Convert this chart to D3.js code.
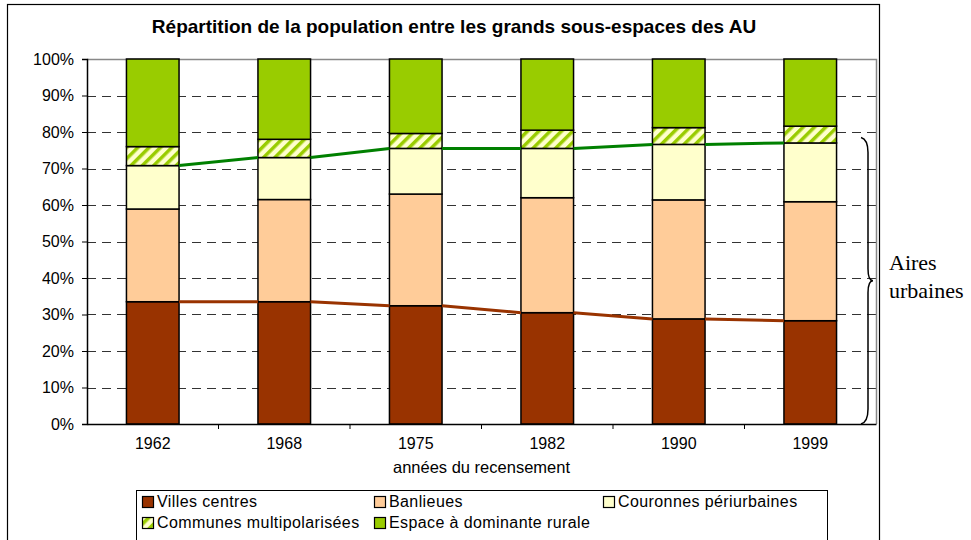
<!DOCTYPE html>
<html>
<head>
<meta charset="utf-8">
<script src="https://cdn.jsdelivr.net/npm/d3@7"></script>
<style>
  body { margin: 0; background: #fff; }
</style>
</head>
<body>
<div id="canvas"></div>
<script>
"use strict"

// chart values (percent of population)
let years = ["1962", "1968", "1975", "1982", "1990", "1999"];
let villesCentres = [33.5, 33.5, 32.4, 30.5, 28.8, 28.3];
let banlieues = [25.4, 28.0, 30.6, 31.5, 32.6, 32.6];
let couronnes = [11.9, 11.5, 12.5, 13.5, 15.2, 16.1];
let multipolarisees = [5.2, 5.0, 4.1, 5.0, 4.6, 4.6];
let espaceRural = [24.0, 22.0, 20.4, 19.5, 18.8, 18.4];
let yTicks = [0, 10, 20, 30, 40, 50, 60, 70, 80, 90, 100];

let seriesNames = ["Villes centres", "Banlieues", "Couronnes périurbaines",
    "Communes multipolarisées", "Espace à dominante rurale"];
let seriesKeys = ["villes", "banlieues", "couronnes", "multi", "rural"];
let seriesFill = ["#993300", "#ffcc99", "#ffffcc", "url(#hatch)", "#99cc00"];

let table = years.map((y, i) => ({
    year: y,
    villes: villesCentres[i],
    banlieues: banlieues[i],
    couronnes: couronnes[i],
    multi: multipolarisees[i],
    rural: espaceRural[i]
}));

let sans = "Liberation Sans, Arial, sans-serif";
let serif = "Liberation Serif, Times New Roman, serif";
let plotLeft = 87, plotRight = 876, plotTop = 59, plotBottom = 424;

let drawing = d3.select("#canvas")
    .append("svg")
    .attr("width", 971)
    .attr("height", 540)
    .attr("font-family", sans);

/* hatch for communes multipolarisées */
let hatch = drawing.append("defs").append("pattern")
    .attr("id", "hatch")
    .attr("patternUnits", "userSpaceOnUse")
    .attr("width", 8)
    .attr("height", 8)
    .attr("patternTransform", "rotate(45)");
hatch.append("rect")
    .attr("width", 8).attr("height", 8)
    .attr("fill", "#ffffcc");
hatch.append("rect")
    .attr("width", 3.5).attr("height", 8)
    .attr("fill", "#99cc00");

/* outer frame */
drawing.append("rect")
    .attr("x", 7.5)
    .attr("y", 4.5)
    .attr("width", 872)
    .attr("height", 560)
    .attr("fill", "none")
    .attr("stroke", "#000")
    .attr("stroke-width", 1.2);

/* title */
drawing.append("text")
    .attr("x", 454)
    .attr("y", 33)
    .attr("text-anchor", "middle")
    .attr("font-size", 19)
    .attr("font-weight", "bold")
    .text("Répartition de la population entre les grands sous-espaces des AU");

let x = d3.scaleBand()
    .domain(years)
    .range([plotLeft, plotRight])
    .paddingInner(0.6)
    .paddingOuter(0.3);

let y = d3.scaleLinear()
    .domain([0, 100])
    .range([plotBottom, plotTop]);

/* dashed grid lines */
drawing.append("g")
    .selectAll("line")
    .data(yTicks.filter(t => t > 0 && t < 100))
    .join("line")
    .attr("x1", plotLeft)
    .attr("x2", plotRight)
    .attr("y1", d => Math.round(y(d)) + 0.5)
    .attr("y2", d => Math.round(y(d)) + 0.5)
    .attr("stroke", "#333")
    .attr("stroke-dasharray", "9,6");

/* plot border top and right (gray) */
drawing.append("path")
    .attr("d", `M${plotLeft},${plotTop + 0.5}H${plotRight + 0.5}V${plotBottom}`)
    .attr("fill", "none")
    .attr("stroke", "#888")
    .attr("stroke-width", 1.5);

/* stacked bars */
let stacked = d3.stack().keys(seriesKeys)(table);

drawing.append("g")
    .selectAll("g")
    .data(stacked)
    .join("g")
    .attr("fill", (d, i) => seriesFill[i])
    .selectAll("rect")
    .data(d => d)
    .join("rect")
    .attr("x", d => x(d.data.year))
    .attr("y", d => y(d[1]))
    .attr("width", x.bandwidth())
    .attr("height", d => y(d[0]) - y(d[1]))
    .attr("stroke", "#000")
    .attr("stroke-width", 1.5);

/* series lines between bars */
function seriesLine(layer, colour) {
    let segs = [];
    for (let i = 0; i < years.length - 1; i++) {
        segs.push([
            [x(years[i]) + x.bandwidth(), y(layer[i][1])],
            [x(years[i + 1]), y(layer[i + 1][1])]
        ]);
    }
    drawing.append("g")
        .selectAll("path")
        .data(segs)
        .join("path")
        .attr("d", d3.line())
        .attr("stroke", colour)
        .attr("stroke-width", 3)
        .attr("fill", "none");
}
seriesLine(stacked[0], "#993300");
seriesLine(stacked[2], "#008000");

/* y axis */
let yAxis = drawing.append("g")
    .attr("transform", `translate(${plotLeft},0)`)
    .call(d3.axisLeft(y).tickValues(yTicks).tickFormat(d => d + "%").tickSize(5).tickPadding(8));
yAxis.select(".domain").attr("stroke", "#000").attr("stroke-width", 1.5);
yAxis.selectAll("text")
    .attr("font-size", 16)
    .attr("font-family", sans)
    .attr("fill", "#000");

/* x axis */
let xAxis = drawing.append("g")
    .attr("transform", `translate(0,${plotBottom})`)
    .call(d3.axisBottom(x).tickSize(0).tickPadding(14));
xAxis.select(".domain").attr("stroke", "#000").attr("stroke-width", 1.5);
xAxis.selectAll("text")
    .attr("font-size", 16)
    .attr("font-family", sans)
    .attr("fill", "#000");
// little marks between categories
xAxis.selectAll(".sep")
    .data(years.slice(1))
    .join("line")
    .attr("class", "sep")
    .attr("x1", d => x(d) - x.step() * x.paddingInner() / 2)
    .attr("x2", d => x(d) - x.step() * x.paddingInner() / 2)
    .attr("y1", 0)
    .attr("y2", 5)
    .attr("stroke", "#000");

drawing.append("text")
    .attr("x", (plotLeft + plotRight) / 2)
    .attr("y", 473)
    .attr("text-anchor", "middle")
    .attr("font-size", 16.5)
    .text("années du recensement");

/* brace for Aires urbaines */
let braceTop = y(78.5), braceBottom = y(0), braceMid = (braceTop + braceBottom) / 2;
drawing.append("path")
    .attr("d", `M861,${braceTop} Q868,${braceTop + 2} 868,${braceTop + 15}
        L868,${braceMid - 12} Q868,${braceMid} 873,${braceMid}
        Q868,${braceMid} 868,${braceMid + 12}
        L868,${braceBottom - 15} Q868,${braceBottom - 2} 861,${braceBottom}`)
    .attr("fill", "none")
    .attr("stroke", "#000")
    .attr("stroke-width", 1.5);

drawing.append("text")
    .attr("x", 889)
    .attr("y", 270)
    .attr("font-size", 22)
    .attr("font-family", serif)
    .text("Aires");
drawing.append("text")
    .attr("x", 889)
    .attr("y", 298)
    .attr("font-size", 22)
    .attr("font-family", serif)
    .text("urbaines");

/* legend */
drawing.append("rect")
    .attr("x", 136.5)
    .attr("y", 490.5)
    .attr("width", 691)
    .attr("height", 70)
    .attr("fill", "#fff")
    .attr("stroke", "#000");

let legendX = [142, 374, 603, 142, 374];
let legendY = [501, 501, 501, 522, 522];

let legendItem = drawing.append("g")
    .selectAll("g")
    .data(seriesNames)
    .join("g")
    .attr("transform", (d, i) => `translate(${legendX[i]},${legendY[i]})`);
legendItem.append("rect")
    .attr("x", 0.5)
    .attr("y", -4.5)
    .attr("width", 11)
    .attr("height", 11)
    .attr("fill", (d, i) => seriesFill[i])
    .attr("stroke", "#000")
    .attr("stroke-width", 1.2);
legendItem.append("text")
    .attr("x", 15)
    .attr("y", 5.5)
    .attr("font-size", 16)
    .attr("letter-spacing", 0.4)
    .text(d => d);
</script>
</body>
</html>
